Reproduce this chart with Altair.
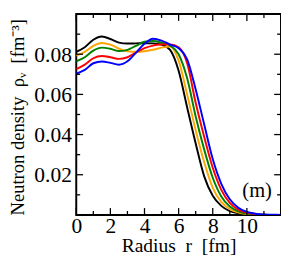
import altair as alt
import pandas as pd

# Radius grid [fm]
r = [0, 0.5, 1, 1.5, 2, 2.5, 3, 3.5, 4, 4.5, 5, 5.5, 6, 6.5, 7, 7.5, 8, 8.5,
     9, 9.5, 10, 10.5, 11, 11.5, 12]

# Neutron density curves [fm^-3]
black = [0.0812, 0.0835, 0.0872, 0.0888, 0.0876, 0.0858, 0.0853, 0.0854, 0.0855, 0.0854,
         0.0848, 0.0822, 0.0718, 0.0535, 0.0356, 0.0192, 0.0095, 0.0045, 0.0019, 0.0008,
         0.0003, 0.0001, 0.0, 0.0, 0.0]
orange = [0.0793, 0.0812, 0.0842, 0.0856, 0.0848, 0.0828, 0.0815, 0.0812, 0.0815, 0.0822,
          0.0833, 0.0838, 0.0768, 0.0600, 0.0422, 0.0262, 0.0135, 0.0065, 0.0029, 0.0012,
          0.0004, 0.0001, 0.0, 0.0, 0.0]
green = [0.0765, 0.0785, 0.0818, 0.0833, 0.0827, 0.0816, 0.0822, 0.0842, 0.0862, 0.0866,
         0.0857, 0.0843, 0.0800, 0.0680, 0.0490, 0.0325, 0.0185, 0.0092, 0.0042, 0.0018,
         0.0007, 0.0002, 0.0, 0.0, 0.0]
red = [0.0726, 0.0748, 0.0780, 0.0791, 0.0785, 0.0777, 0.0785, 0.0808, 0.0830, 0.0843,
       0.0848, 0.0849, 0.0835, 0.0755, 0.0558, 0.0388, 0.0235, 0.0125, 0.0060, 0.0026,
       0.0010, 0.0004, 0.0001, 0.0, 0.0]
blue = [0.0703, 0.0722, 0.0755, 0.0764, 0.0757, 0.0748, 0.0765, 0.0808, 0.0852, 0.0877,
        0.0868, 0.0848, 0.0830, 0.0775, 0.0625, 0.0450, 0.0278, 0.0155, 0.0078, 0.0036,
        0.0015, 0.0006, 0.0002, 0.0001, 0.0]

series = [black, orange, green, red, blue]
colors = ["#000000", "#FFA500", "#008000", "#FF0000", "#0000FF"]

x_major = [0, 2, 4, 6, 8, 10, 12]
x_minor = [1, 3, 5, 7, 9, 11]
y_major = [0.02, 0.04, 0.06, 0.08]
y_minor = [0.01, 0.03, 0.05, 0.07, 0.09]
x_labels = [0, 2, 4, 6, 8, 10]
y_labels = [0.02, 0.04, 0.06, 0.08]

NB = "\u00a0"
x_title = "Radius" + NB * 2 + "r" + NB * 2 + "[fm]"
y_title = "Neutron" + NB + "density" + NB * 2 + "ρᵥ" + NB * 2 + "[fm⁻³]"

annot = pd.DataFrame({"r": [10.6], "rho": [0.0118], "t": ["(m)"]})

W, H = 210, 206
FONT = "Liberation Serif"

xscale = alt.Scale(domain=[0, 12], nice=False, zero=False)
yscale = alt.Scale(domain=[0, 0.1], nice=False, zero=False)

common = dict(ticks=False, domain=False, grid=False, labelFlush=False,
              labelFont=FONT, labelFontSize=22, labelColor="black",
              titleFont=FONT, titleFontWeight="normal",
              titleColor="black", labelOverlap=False, labelBound=False)
xaxis = alt.Axis(values=x_labels, labelPadding=1, title=x_title, titleFontSize=20,
                 titleBaseline="alphabetic", titleY=38, **common)
yaxis = alt.Axis(values=y_labels, format=".2f", labelPadding=5, title=y_title,
                 titleFontSize=19, titleAnchor="start", titlePadding=7, **common)

layers = []
for i, (vals, c) in enumerate(zip(series, colors)):
    df = pd.DataFrame({"r": r, "rho": vals})
    layers.append(alt.Chart(df).mark_line(color=c, strokeWidth=2, interpolate="monotone",
                                          clip=True).encode(
        x=alt.X("r:Q", scale=xscale, axis=xaxis),
        y=alt.Y("rho:Q", scale=yscale, axis=yaxis)))


def xticks(vals, length, top):
    d = pd.DataFrame({"r": vals})
    if top:
        ya, yb = 0, length
    else:
        ya, yb = H, H - length
    return alt.Chart(d).mark_rule(color="black", strokeWidth=1.3).encode(
        x=alt.X("r:Q", scale=xscale, axis=xaxis), y=alt.value(ya), y2=alt.value(yb))


def yticks(vals, length, right):
    d = pd.DataFrame({"rho": vals})
    if right:
        xa, xb = W, W - length
    else:
        xa, xb = 0, length
    return alt.Chart(d).mark_rule(color="black", strokeWidth=1.3).encode(
        y=alt.Y("rho:Q", scale=yscale, axis=yaxis), x=alt.value(xa), x2=alt.value(xb))


tick_layers = [
    xticks(x_major, 7, False), xticks(x_minor, 4, False),
    xticks(x_major, 7, True), xticks(x_minor, 4, True),
    yticks(y_major, 7, False), yticks(y_minor, 4, False),
    yticks(y_major, 7, True), yticks(y_minor, 4, True),
]

text = alt.Chart(annot).mark_text(font=FONT, fontSize=21, color="black").encode(
    x=alt.X("r:Q", scale=xscale, axis=xaxis), y=alt.Y("rho:Q", scale=yscale, axis=yaxis),
    text="t:N")

chart = alt.layer(*layers, *tick_layers, text).properties(
    width=W, height=H,
    padding={"left": 70, "top": 3, "right": 0, "bottom": 42},
    autosize=alt.AutoSizeParams(type="none"),
    background="white",
).configure_view(stroke="black", strokeWidth=2)

chart.save("out.html", embed_options={"renderer": "svg", "actions": False})
